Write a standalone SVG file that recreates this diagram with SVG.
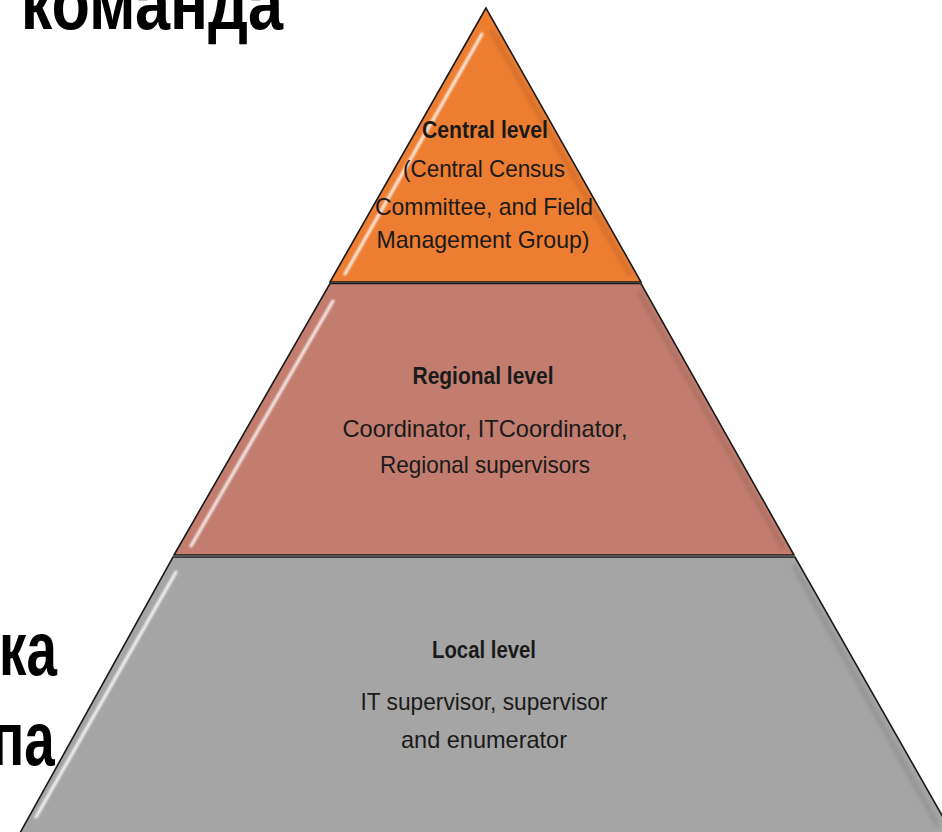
<svg xmlns="http://www.w3.org/2000/svg" width="942" height="832" viewBox="0 0 942 832">
<style>
.ru{font-family:"Liberation Sans",Arial,sans-serif;font-weight:bold;font-size:76px;fill:#000}
.t{font-family:"Liberation Sans",Arial,sans-serif;font-size:24px;fill:#1a1a1a;text-anchor:middle}
.b{font-weight:bold}
.sec{stroke:#1a1a1a;stroke-width:1.6;stroke-linejoin:miter}
.hl{stroke:#fff;stroke-width:3;stroke-linecap:round;fill:none;opacity:0.9}
.sh{stroke:#000;stroke-width:4;fill:none;opacity:0.12}
</style>
<defs>
<filter id="blur" x="-20%" y="-20%" width="140%" height="140%"><feGaussianBlur stdDeviation="0.8"/></filter>
<filter id="blur2" x="-20%" y="-20%" width="140%" height="140%"><feGaussianBlur stdDeviation="2"/></filter>
</defs>
<rect width="942" height="832" fill="#fff"/>
<text class="ru" transform="scale(0.83,1)" x="25" y="29" textLength="316" lengthAdjust="spacingAndGlyphs">команда</text>
<text class="ru" transform="scale(0.72,1)" x="79" y="675" text-anchor="end">ка</text>
<text class="ru" transform="scale(0.72,1)" x="76" y="765" text-anchor="end">па</text>
<g id="central">
<polygon class="sec" points="486,8 330,282 641,282" fill="#ED7D31"/>
<line class="sh" x1="491" y1="30" x2="631" y2="276" filter="url(#blur2)"/>
<line class="hl" x1="482" y1="34" x2="345" y2="274" filter="url(#blur)" opacity="0.6"/>
<text class="t b" x="485" y="138" textLength="126" lengthAdjust="spacingAndGlyphs">Central level</text>
<text class="t" x="484" y="177" textLength="162" lengthAdjust="spacingAndGlyphs">(Central Census</text>
<text class="t" x="484" y="215" textLength="218" lengthAdjust="spacingAndGlyphs">Committee, and Field</text>
<text class="t" x="483" y="248" textLength="213" lengthAdjust="spacingAndGlyphs">Management Group)</text>
</g>
<g id="regional">
<polygon class="sec" points="330,283.5 641,283.5 794,555 174,555" fill="#C27D6E"/>
<line class="sh" x1="639" y1="292" x2="784" y2="549" filter="url(#blur2)"/>
<line class="hl" x1="333" y1="301" x2="191" y2="546" filter="url(#blur)"/>
<text class="t b" x="483" y="384" textLength="141" lengthAdjust="spacingAndGlyphs">Regional level</text>
<text class="t" x="485" y="437" textLength="285" lengthAdjust="spacingAndGlyphs">Coordinator, ITCoordinator,</text>
<text class="t" x="485" y="473" textLength="210" lengthAdjust="spacingAndGlyphs">Regional supervisors</text>
</g>
<g id="local">
<polygon class="sec" points="173,557 795,557 952,833 20,833" fill="#A5A5A5"/>
<line class="sh" x1="794" y1="566" x2="938" y2="826" filter="url(#blur2)"/>
<line class="hl" x1="176" y1="572" x2="36" y2="817" filter="url(#blur)"/>
<text class="t b" x="484" y="658" textLength="104" lengthAdjust="spacingAndGlyphs">Local level</text>
<text class="t" x="484" y="710" textLength="247" lengthAdjust="spacingAndGlyphs">IT supervisor, supervisor</text>
<text class="t" x="484" y="748" textLength="166" lengthAdjust="spacingAndGlyphs">and enumerator</text>
</g>
<g id="connectors"/>
</svg>
